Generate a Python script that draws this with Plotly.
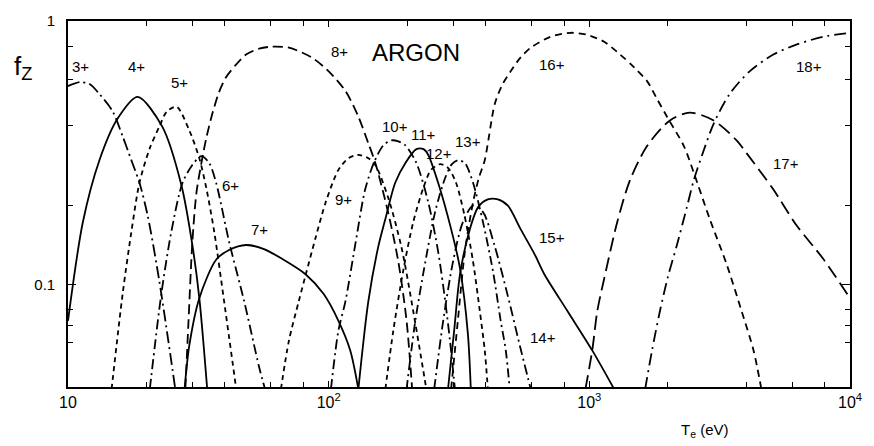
import math
import plotly.graph_objects as go

# ---- data: electron temperature (eV) and fractional abundance f_Z ----
T3 = [10.0, 11.1, 12.1, 13.2, 14.8, 16.2, 17.5, 18.8, 20.2, 22.4, 25.8]
F3 = [0.566, 0.586, 0.576, 0.528, 0.456, 0.365, 0.296, 0.243, 0.183, 0.103, 0.04]

T4 = [10.0, 11.4, 13.2, 15.5, 18.5, 23.0, 27.2, 30.0, 31.9, 34.2]
F4 = [0.0727, 0.172, 0.296, 0.426, 0.515, 0.397, 0.239, 0.141, 0.0886, 0.04]

T5 = [14.7, 16.2, 17.5, 18.8, 20.6, 22.4, 23.9, 26.1, 29.2, 31.9, 33.9, 36.4, 39.7, 44.2]
F5 = [0.04, 0.0918, 0.158, 0.243, 0.329, 0.397, 0.452, 0.472, 0.384, 0.301, 0.233, 0.158, 0.0863, 0.04]

T6 = [20.6, 22.8, 24.9, 27.5, 30.0, 32.5, 34.8, 37.0, 41.5, 47.4, 54.1, 57.0]
F6 = [0.04, 0.0918, 0.158, 0.243, 0.284, 0.307, 0.289, 0.243, 0.145, 0.0863, 0.0485, 0.04]

T7 = [28.0, 29.2, 31.9, 37.0, 41.5, 48.2, 56.5, 66.2, 81.7, 95.7, 109, 121, 130]
F7 = [0.04, 0.0586, 0.0886, 0.124, 0.135, 0.141, 0.136, 0.125, 0.109, 0.0918, 0.0727, 0.0561, 0.04]

T8 = [28.2, 29.0, 30.0, 31.1, 32.5, 33.9, 35.8, 38.0, 40.4, 44.2, 48.2, 54.1, 60.6, 70.4,
      86.1, 100, 116, 130, 142, 151, 169, 185, 199, 209]
F8 = [0.04, 0.0727, 0.145, 0.223, 0.289, 0.358, 0.445, 0.538, 0.612, 0.684, 0.746, 0.785, 0.799, 0.792,
      0.727, 0.644, 0.542, 0.433, 0.343, 0.289, 0.188, 0.122, 0.0727, 0.04]

T9 = [65.6, 70.4, 76.8, 81.7, 89.2, 97.4, 109, 119, 130, 142, 151, 169, 190, 211, 237]
F9 = [0.04, 0.0611, 0.0863, 0.109, 0.151, 0.205, 0.272, 0.301, 0.310, 0.301, 0.284, 0.214, 0.139, 0.0792, 0.04]

T10 = [102, 109, 116, 127, 138, 149, 162, 174, 185, 197, 217, 241, 263, 280, 292, 305]
F10 = [0.04, 0.0667, 0.0863, 0.145, 0.229, 0.289, 0.337, 0.352, 0.349, 0.337, 0.289, 0.205, 0.133, 0.0863, 0.0611, 0.04]

T11 = [130, 142, 155, 165, 180, 197, 217, 231, 241, 263, 295, 319, 342, 351]
F11 = [0.04, 0.0863, 0.139, 0.177, 0.243, 0.289, 0.326, 0.326, 0.310, 0.243, 0.162, 0.115, 0.065, 0.04]

T12 = [165, 177, 193, 211, 231, 247, 268, 287, 308, 333, 358, 380, 397, 408]
F12 = [0.04, 0.0667, 0.112, 0.172, 0.233, 0.272, 0.286, 0.277, 0.243, 0.180, 0.122, 0.0792, 0.0561, 0.04]

T13 = [199, 215, 235, 256, 280, 297, 313, 333, 358, 391, 427, 457, 478, 495]
F13 = [0.04, 0.0727, 0.122, 0.188, 0.254, 0.286, 0.296, 0.289, 0.243, 0.172, 0.112, 0.0727, 0.0561, 0.04]

T14 = [254, 275, 300, 327, 358, 391, 434, 487, 541, 596]
F14 = [0.04, 0.0727, 0.122, 0.172, 0.199, 0.188, 0.139, 0.0902, 0.0586, 0.04]

T15 = [287, 303, 319, 348, 374, 408, 446, 487, 545, 617, 673, 824, 1026, 1245]
F15 = [0.04, 0.0667, 0.109, 0.162, 0.196, 0.210, 0.210, 0.199, 0.162, 0.130, 0.109, 0.0792, 0.0561, 0.04]

T16 = [295, 313, 333, 358, 377, 397, 434, 465, 499, 545, 596, 710, 846, 982, 1140, 1313,
       1485, 1665, 1818, 1986, 2305, 2517, 2897, 3365, 3837, 4265, 4571]
F16 = [0.04, 0.0727, 0.133, 0.205, 0.254, 0.296, 0.485, 0.576, 0.644, 0.727, 0.792, 0.871, 0.902, 0.886, 0.834, 0.746,
       0.667, 0.591, 0.506, 0.433, 0.335, 0.265, 0.177, 0.119, 0.0792, 0.0561, 0.04]

T17 = [966, 1026, 1073, 1140, 1279, 1433, 1665, 2038, 2429, 3000, 3673, 4009, 5083, 6223, 7889, 10000]
F17 = [0.04, 0.0561, 0.0792, 0.105, 0.172, 0.249, 0.335, 0.419, 0.449, 0.419, 0.352, 0.315, 0.229, 0.168, 0.125, 0.0886]

T18 = [1637, 1740, 1866, 2003, 2168, 2366, 2517, 2748, 3000, 3452, 4120, 5083, 6223, 7889, 10000]
F18 = [0.04, 0.0561, 0.0792, 0.107, 0.141, 0.196, 0.249, 0.323, 0.408, 0.528, 0.644, 0.746, 0.813, 0.871, 0.902]

ION_NAMES = ["3+", "4+", "5+", "6+", "7+", "8+", "9+", "10+", "11+", "12+", "13+", "14+", "15+", "16+", "17+", "18+"]
LABEL_T = [11.2, 18.3, 26.7, 41.9, 54.1, 110, 114, 180, 231, 266, 343, 662, 722, 722, 5700, 6980]
LABEL_F = [0.672, 0.672, 0.586, 0.237, 0.162, 0.765, 0.210, 0.397, 0.371, 0.313, 0.350, 0.0628, 0.150, 0.684, 0.287, 0.672]

X_TICKS = [10, 100, 1000, 10000]
X_TICK_TEXT = ["10", "10<sup>2</sup>", "10<sup>3</sup>", "10<sup>4</sup>"]
X_MINOR = [20, 30, 40, 60, 80, 200, 300, 400, 600, 800, 2000, 4000, 6000, 8000]
Y_TICKS = [0.1, 1]
Y_TICK_TEXT = ["0.1", "1"]
Y_MINOR = [0.06, 0.07, 0.08, 0.2, 0.4, 0.6, 0.8]

series = [(T3, F3), (T4, F4), (T5, F5), (T6, F6), (T7, F7), (T8, F8), (T9, F9), (T10, F10),
          (T11, F11), (T12, F12), (T13, F13), (T14, F14), (T15, F15), (T16, F16), (T17, F17), (T18, F18)]

dashes = ["12px,4px,2px,4px", "solid", "5px,4px", "10px,4px,2px,4px", "solid", "10px,5px",
          "5px,4px", "10px,4px,2px,4px", "solid", "5px,4px", "9px,4px,2px,4px", "10px,4px,2px,4px",
          "solid", "7px,5px", "14px,6px", "12px,5px,2px,5px"]

fig = go.Figure()
for (tx, fy), d, name in zip(series, dashes, ION_NAMES):
    fig.add_trace(go.Scatter(x=tx, y=fy, mode="lines", name=name, showlegend=False,
                             line=dict(color="black", width=1.8, dash=d, shape="spline", smoothing=0.8),
                             hoverinfo="skip"))

FONT = "Liberation Sans"
for name, t, f in zip(ION_NAMES, LABEL_T, LABEL_F):
    fig.add_annotation(x=math.log10(t), y=math.log10(f), text=name, showarrow=False,
                       xanchor="center", yanchor="middle",
                       font=dict(family=FONT, size=15, color="black"), xref="x", yref="y")

fig.add_annotation(x=math.log10(217), y=math.log10(0.759), text="ARGON", showarrow=False,
                   xanchor="center", yanchor="middle",
                   font=dict(family=FONT, size=24, color="black"))
fig.add_annotation(x=-0.058, y=0.872, xref="paper", yref="paper", text="f<sub>Z</sub>", showarrow=False,
                   xanchor="center", yanchor="middle",
                   font=dict(family=FONT, size=26, color="black"))
fig.add_annotation(x=0.814, y=-0.118, xref="paper", yref="paper", text="T<sub>e</sub> (eV)", showarrow=False,
                   xanchor="center", yanchor="middle",
                   font=dict(family=FONT, size=15, color="black"))

fig.update_xaxes(type="log", range=[1, 4], showline=True, linecolor="black", linewidth=1.6,
                 mirror="ticks", ticks="inside", ticklen=6, tickwidth=1.3, tickcolor="black",
                 tickmode="array", tickvals=X_TICKS, ticktext=X_TICK_TEXT,
                 tickfont=dict(family=FONT, size=16, color="black"), showgrid=False, zeroline=False,
                 minor=dict(tickmode="array", tickvals=X_MINOR, ticks="inside", ticklen=5,
                            tickcolor="black", tickwidth=1.3, showgrid=False))
fig.update_yaxes(type="log", range=[-1.39, 0], showline=True, linecolor="black", linewidth=1.6,
                 mirror="ticks", ticks="inside", ticklen=8, tickwidth=1.3, tickcolor="black",
                 tickmode="array", tickvals=Y_TICKS, ticktext=Y_TICK_TEXT, ticklabelstandoff=8,
                 tickfont=dict(family=FONT, size=15, color="black"), showgrid=False, zeroline=False,
                 minor=dict(tickmode="array", tickvals=Y_MINOR, ticks="inside", ticklen=5,
                            tickcolor="black", tickwidth=1.3, showgrid=False))

fig.update_layout(width=874, height=446, margin=dict(l=68, r=20, t=16, b=59),
                  plot_bgcolor="white", paper_bgcolor="white")

fig.write_html("out.html")
